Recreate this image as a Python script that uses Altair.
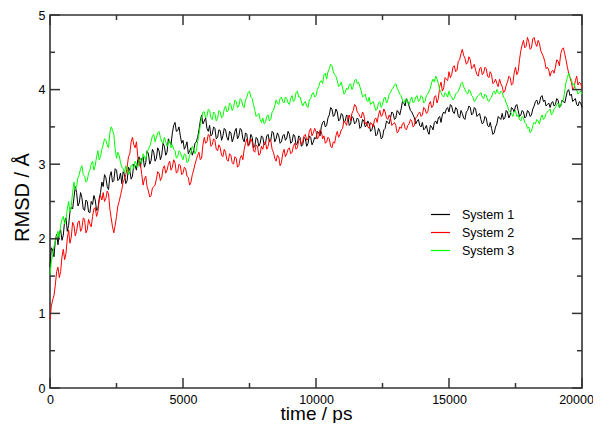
import altair as alt
import pandas as pd

# time axis sampling (ps): full-step samples and half-step samples
times = list(range(0, 20001, 100))
times_mid = list(range(50, 20000, 100))

sys1 = [
    1.62, 1.85, 1.98, 1.92, 2.12, 2.05, 2.28, 2.18, 2.42, 2.55,
    2.62, 2.48, 2.55, 2.38, 2.50, 2.35, 2.46, 2.52, 2.40, 2.62,
    2.70, 2.82, 2.66, 2.90, 2.78, 2.92, 2.80, 2.74, 2.86, 2.78,
    2.92, 2.84, 2.98, 3.06, 2.96, 3.10, 3.02, 3.14, 3.05, 3.16,
    3.08, 3.18, 3.12, 3.24, 3.16, 3.30, 3.42, 3.56, 3.45, 3.38,
    3.32, 3.24, 3.14, 3.22, 3.18, 3.30, 3.46, 3.66, 3.58, 3.48,
    3.52, 3.40, 3.48, 3.36, 3.45, 3.38, 3.46, 3.32, 3.42, 3.35,
    3.48, 3.38, 3.46, 3.30, 3.40, 3.28, 3.36, 3.24, 3.34, 3.28,
    3.36, 3.28, 3.40, 3.32, 3.42, 3.34, 3.38, 3.30, 3.40, 3.35,
    3.40, 3.30, 3.38, 3.28, 3.36, 3.26, 3.34, 3.28, 3.36, 3.30,
    3.34, 3.42, 3.50, 3.58, 3.52, 3.66, 3.74, 3.66, 3.70, 3.60,
    3.66, 3.58, 3.64, 3.54, 3.62, 3.56, 3.60, 3.50, 3.58, 3.52,
    3.54, 3.46, 3.50, 3.40, 3.44, 3.36, 3.48, 3.56, 3.62, 3.68,
    3.62, 3.70, 3.74, 3.82, 3.88, 3.78, 3.70, 3.62, 3.58, 3.52,
    3.56, 3.48, 3.44, 3.52, 3.46, 3.58, 3.62, 3.56, 3.70, 3.74,
    3.70, 3.78, 3.68, 3.74, 3.62, 3.68, 3.60, 3.72, 3.76, 3.68,
    3.74, 3.66, 3.60, 3.56, 3.62, 3.50, 3.48, 3.42, 3.54, 3.62,
    3.68, 3.62, 3.70, 3.66, 3.74, 3.78, 3.72, 3.66, 3.70, 3.64,
    3.70, 3.66, 3.78, 3.86, 3.82, 3.92, 3.86, 3.80, 3.76, 3.84,
    3.80, 3.86, 3.78, 3.84, 3.90, 4.00, 3.94, 3.86, 3.80, 3.84, 3.76,
]
sys1_mid = [
    1.88, 1.76, 2.06, 2.08, 1.98, 2.24, 2.10, 2.36, 2.40, 2.70,
    2.44, 2.62, 2.40, 2.52, 2.36, 2.50, 2.58, 2.38, 2.54, 2.76,
    2.86, 2.70, 2.84, 2.76, 2.94, 2.78, 2.88, 2.90, 2.74, 2.96,
    2.80, 3.00, 2.92, 3.10, 3.08, 2.96, 3.18, 3.00, 3.20, 3.04,
    3.22, 3.06, 3.28, 3.12, 3.34, 3.26, 3.52, 3.44, 3.50, 3.28,
    3.20, 3.30, 3.18, 3.12, 3.28, 3.36, 3.58, 3.54, 3.62, 3.44,
    3.38, 3.50, 3.34, 3.46, 3.32, 3.48, 3.36, 3.44, 3.30, 3.44,
    3.34, 3.48, 3.34, 3.42, 3.26, 3.40, 3.22, 3.36, 3.24, 3.38,
    3.26, 3.38, 3.30, 3.44, 3.30, 3.42, 3.28, 3.38, 3.32, 3.44,
    3.28, 3.40, 3.26, 3.38, 3.24, 3.36, 3.24, 3.38, 3.26, 3.36,
    3.44, 3.38, 3.56, 3.50, 3.62, 3.76, 3.64, 3.74, 3.58, 3.68,
    3.56, 3.66, 3.52, 3.64, 3.54, 3.62, 3.48, 3.60, 3.50, 3.58,
    3.44, 3.54, 3.38, 3.48, 3.34, 3.46, 3.58, 3.54, 3.70, 3.60,
    3.72, 3.66, 3.84, 3.78, 3.84, 3.72, 3.66, 3.54, 3.60, 3.50,
    3.46, 3.52, 3.40, 3.50, 3.56, 3.54, 3.64, 3.66, 3.68, 3.76,
    3.80, 3.70, 3.76, 3.64, 3.72, 3.62, 3.70, 3.78, 3.66, 3.76,
    3.64, 3.68, 3.54, 3.64, 3.52, 3.56, 3.40, 3.50, 3.64, 3.60,
    3.60, 3.72, 3.62, 3.76, 3.70, 3.80, 3.64, 3.72, 3.62, 3.72,
    3.64, 3.74, 3.84, 3.80, 3.90, 3.84, 3.78, 3.82, 3.82, 3.78,
    3.88, 3.76, 3.86, 3.82, 3.98, 3.92, 3.84, 3.88, 3.78, 3.82,
]

sys2 = [
    0.92, 1.18, 1.38, 1.62, 1.56, 1.86, 1.80, 2.12, 2.02, 2.18,
    2.10, 2.24, 2.14, 2.26, 2.12, 2.20, 2.30, 2.42, 2.36, 2.58,
    2.62, 2.54, 2.60, 2.28, 2.08, 2.30, 2.50, 2.66, 2.80, 2.96,
    3.14, 3.36, 3.22, 3.10, 3.00, 2.72, 2.84, 2.64, 2.58, 2.70,
    2.80, 2.88, 2.82, 2.98, 2.92, 3.04, 2.96, 3.02, 2.90, 2.98,
    2.88, 2.94, 2.82, 2.76, 2.92, 3.06, 3.16, 3.08, 3.36, 3.30,
    3.38, 3.26, 3.32, 3.18, 3.22, 3.10, 3.16, 3.04, 3.12, 3.00,
    3.08, 2.98, 3.12, 3.20, 3.34, 3.26, 3.30, 3.16, 3.24, 3.14,
    3.20, 3.30, 3.24, 3.32, 3.16, 3.04, 3.10, 3.02, 3.20, 3.14,
    3.22, 3.16, 3.28, 3.22, 3.34, 3.30, 3.40, 3.34, 3.48, 3.42,
    3.44, 3.36, 3.44, 3.38, 3.30, 3.34, 3.22, 3.28, 3.44, 3.40,
    3.48, 3.56, 3.62, 3.58, 3.72, 3.78, 3.68, 3.62, 3.66, 3.56,
    3.48, 3.54, 3.60, 3.56, 3.72, 3.66, 3.70, 3.60, 3.62, 3.54,
    3.52, 3.44, 3.48, 3.56, 3.46, 3.54, 3.58, 3.52, 3.64, 3.70,
    3.66, 3.74, 3.70, 3.84, 3.78, 3.92, 3.88, 4.10, 4.02, 4.14,
    4.24, 4.20, 4.32, 4.26, 4.40, 4.54, 4.42, 4.36, 4.40, 4.30,
    4.26, 4.18, 4.30, 4.22, 4.28, 4.16, 4.20, 4.10, 4.08, 4.14,
    4.04, 3.98, 4.10, 4.16, 4.08, 4.30, 4.24, 4.52, 4.66, 4.58,
    4.64, 4.56, 4.70, 4.58, 4.62, 4.48, 4.38, 4.30, 4.18, 4.26,
    4.30, 4.38, 4.48, 4.56, 4.40, 4.22, 4.10, 4.02, 4.18, 4.10, 4.02,
]
sys2_mid = [
    1.10, 1.24, 1.56, 1.48, 1.76, 1.72, 2.00, 1.94, 2.22, 2.04,
    2.22, 2.10, 2.28, 2.08, 2.26, 2.16, 2.40, 2.30, 2.52, 2.52,
    2.50, 2.64, 2.40, 2.16, 2.18, 2.44, 2.58, 2.76, 2.86, 3.10,
    3.30, 3.26, 3.30, 2.98, 2.86, 2.80, 2.70, 2.56, 2.68, 2.72,
    2.90, 2.78, 2.94, 2.88, 3.00, 2.92, 3.06, 2.88, 3.00, 2.86,
    2.96, 2.84, 2.72, 2.86, 3.00, 3.12, 3.06, 3.26, 3.28, 3.40,
    3.24, 3.34, 3.20, 3.26, 3.12, 3.20, 3.06, 3.14, 3.02, 3.10,
    2.96, 3.08, 3.06, 3.28, 3.24, 3.34, 3.18, 3.26, 3.12, 3.24,
    3.28, 3.20, 3.34, 3.20, 3.08, 3.12, 2.98, 3.14, 3.10, 3.20,
    3.14, 3.24, 3.20, 3.32, 3.26, 3.38, 3.32, 3.44, 3.38, 3.48,
    3.34, 3.46, 3.34, 3.28, 3.36, 3.24, 3.30, 3.38, 3.36, 3.46,
    3.58, 3.52, 3.66, 3.68, 3.80, 3.70, 3.64, 3.70, 3.54, 3.50,
    3.56, 3.50, 3.62, 3.66, 3.64, 3.74, 3.62, 3.66, 3.52, 3.56,
    3.42, 3.50, 3.54, 3.48, 3.52, 3.60, 3.50, 3.62, 3.68, 3.64,
    3.76, 3.68, 3.80, 3.76, 3.90, 3.82, 4.04, 3.98, 4.16, 4.12,
    4.16, 4.30, 4.24, 4.38, 4.48, 4.46, 4.34, 4.44, 4.28, 4.34,
    4.20, 4.28, 4.20, 4.30, 4.18, 4.24, 4.08, 4.14, 4.04, 4.08,
    3.96, 4.06, 4.18, 4.06, 4.22, 4.20, 4.40, 4.60, 4.56, 4.70,
    4.54, 4.68, 4.62, 4.66, 4.52, 4.44, 4.28, 4.26, 4.24, 4.22,
    4.40, 4.32, 4.54, 4.48, 4.30, 4.16, 4.00, 4.12, 4.06, 4.08,
]

sys3 = [
    1.52, 1.78, 1.96, 2.10, 2.18, 2.30, 2.26, 2.50, 2.44, 2.76,
    2.70, 2.86, 2.98, 2.84, 2.78, 2.92, 3.04, 2.98, 3.18, 3.10,
    3.26, 3.32, 3.22, 3.50, 3.40, 3.08, 3.12, 2.96, 2.88, 2.94,
    2.90, 3.00, 3.04, 2.96, 3.08, 3.14, 3.06, 3.20, 3.30, 3.40,
    3.36, 3.44, 3.30, 3.36, 3.24, 3.32, 3.26, 3.18, 3.10, 3.16,
    3.06, 3.12, 3.04, 3.16, 3.22, 3.18, 3.40, 3.62, 3.70, 3.64,
    3.72, 3.60, 3.68, 3.62, 3.70, 3.64, 3.78, 3.72, 3.80, 3.76,
    3.84, 3.78, 3.86, 3.76, 3.90, 3.98, 3.88, 3.72, 3.66, 3.60,
    3.62, 3.56, 3.66, 3.60, 3.72, 3.86, 3.80, 3.90, 3.82, 3.88,
    3.80, 3.92, 3.86, 3.98, 3.90, 3.78, 3.84, 3.76, 3.88, 3.96,
    3.92, 4.04, 4.12, 4.20, 4.14, 4.28, 4.32, 4.20, 4.12, 4.06,
    4.02, 3.96, 4.00, 4.08, 4.04, 4.14, 4.10, 3.98, 3.92, 3.86,
    3.90, 3.82, 3.78, 3.74, 3.84, 3.80, 3.90, 3.86, 3.96, 4.02,
    4.08, 3.98, 3.92, 3.82, 3.88, 3.80, 3.90, 3.84, 3.92, 3.86,
    3.90, 3.84, 3.94, 4.02, 4.14, 4.18, 4.08, 3.96, 3.90, 3.94,
    3.98, 3.90, 3.88, 3.96, 4.02, 4.10, 4.00, 3.94, 3.98, 3.90,
    3.86, 3.92, 3.96, 3.88, 3.92, 3.84, 3.90, 3.98, 4.00, 3.94,
    3.96, 3.88, 3.78, 3.70, 3.64, 3.72, 3.66, 3.58, 3.62, 3.54,
    3.50, 3.44, 3.56, 3.60, 3.54, 3.66, 3.62, 3.70, 3.74, 3.68,
    3.76, 3.82, 3.78, 3.86, 4.10, 4.22, 4.14, 4.08, 4.00, 3.96, 3.94,
]
sys3_mid = [
    1.70, 1.90, 2.04, 2.02, 2.26, 2.20, 2.40, 2.36, 2.62, 2.66,
    2.82, 2.94, 2.86, 2.76, 2.88, 3.00, 2.92, 3.10, 3.06, 3.20,
    3.34, 3.26, 3.42, 3.46, 3.20, 3.16, 3.02, 2.94, 2.98, 2.86,
    2.98, 2.94, 3.00, 3.04, 3.02, 3.10, 3.16, 3.24, 3.38, 3.30,
    3.42, 3.36, 3.28, 3.30, 3.28, 3.22, 3.20, 3.08, 3.18, 3.10,
    3.14, 3.02, 3.12, 3.24, 3.14, 3.30, 3.52, 3.70, 3.62, 3.74,
    3.62, 3.70, 3.58, 3.72, 3.62, 3.74, 3.70, 3.82, 3.72, 3.86,
    3.76, 3.88, 3.78, 3.86, 3.96, 3.90, 3.80, 3.64, 3.68, 3.56,
    3.54, 3.64, 3.58, 3.70, 3.78, 3.82, 3.88, 3.84, 3.90, 3.82,
    3.88, 3.84, 3.96, 3.90, 3.84, 3.82, 3.78, 3.86, 3.94, 3.90,
    4.00, 4.10, 4.08, 4.22, 4.24, 4.34, 4.24, 4.18, 4.04, 4.10,
    3.94, 4.02, 4.06, 4.00, 4.12, 4.08, 4.04, 3.90, 3.94, 3.84,
    3.80, 3.84, 3.72, 3.82, 3.76, 3.88, 3.82, 3.94, 4.00, 4.06,
    4.02, 3.94, 3.86, 3.86, 3.82, 3.86, 3.82, 3.90, 3.84, 3.92,
    3.82, 3.92, 3.98, 4.10, 4.10, 4.14, 4.00, 3.92, 3.96, 3.90,
    3.92, 3.86, 3.94, 3.98, 4.08, 4.04, 3.96, 4.00, 3.92, 3.84,
    3.90, 3.94, 3.90, 3.94, 3.86, 3.88, 3.96, 3.94, 3.96, 3.98,
    3.90, 3.82, 3.72, 3.68, 3.70, 3.64, 3.60, 3.64, 3.56, 3.48,
    3.42, 3.52, 3.54, 3.58, 3.62, 3.60, 3.68, 3.72, 3.66, 3.74,
    3.80, 3.76, 3.84, 3.98, 4.16, 4.16, 4.06, 4.02, 3.94, 3.98,
]

series_names = ["System 1", "System 2", "System 3"]
series_colors = ["#000000", "#ff0000", "#00ff00"]

x_major = [0, 5000, 10000, 15000, 20000]
x_minor = [2500, 7500, 12500, 17500]
y_major = [0, 1, 2, 3, 4, 5]
y_minor = [0.5, 1.5, 2.5, 3.5, 4.5]

rows = []
for name, vals, mids in zip(series_names, [sys1, sys2, sys3],
                            [sys1_mid, sys2_mid, sys3_mid]):
    for t, v in zip(times, vals):
        rows.append({"time": t, "rmsd": v, "series": name})
    for t, v in zip(times_mid, mids):
        rows.append({"time": t, "rmsd": v, "series": name})
df = pd.DataFrame(rows).sort_values(["series", "time"]).reset_index(drop=True)

W, H = 532, 373
FONT = "Liberation Sans"
AXC = "#333333"

xscale = alt.Scale(domain=[0, 20000], nice=False, zero=False)
yscale = alt.Scale(domain=[0, 5], nice=False, zero=False)

lines = alt.Chart(df).mark_line(strokeWidth=1).encode(
    x=alt.X("time:Q", scale=xscale,
            axis=alt.Axis(title="time / ps", values=x_major, format="d",
                          ticks=False, grid=False, domain=False,
                          labelFontSize=12.5, labelPadding=5,
                          labelColor="black", titleFontSize=19,
                          titleFontWeight="normal", titleColor="black",
                          titleX=W / 2, titleY=31, titleBaseline="alphabetic",
                          titleAlign="center", labelFlush=False,
                          labelOffset={"condition": {"test": "datum.value == 20000",
                                                     "value": -6},
                                       "value": 0})),
    y=alt.Y("rmsd:Q", scale=yscale,
            axis=alt.Axis(title="RMSD / Å", values=y_major, format="d",
                          ticks=False, grid=False, domain=False,
                          labelFontSize=12.5, labelPadding=5,
                          labelColor="black", titleFontSize=20,
                          titleFontWeight="normal", titleColor="black",
                          titleX=-22, titleY=182, titleAngle=270,
                          titleBaseline="alphabetic", titleAlign="center",
                          labelFlush=False)),
    color=alt.Color("series:N",
                    scale=alt.Scale(domain=series_names, range=series_colors),
                    legend=alt.Legend(title=None, orient="none", legendX=380,
                                      legendY=189, symbolType="stroke",
                                      symbolSize=361, symbolStrokeWidth=1.2,
                                      labelFontSize=12.5, labelOffset=11,
                                      rowPadding=1, padding=0,
                                      labelColor="black")),
)

dfxM = pd.DataFrame({"t": x_major})
dfxm = pd.DataFrame({"t": x_minor})
dfyM = pd.DataFrame({"v": y_major})
dfym = pd.DataFrame({"v": y_minor})

def xt(d, y1, y2):
    return alt.Chart(d).mark_rule(color=AXC, strokeWidth=1.5).encode(
        x=alt.X("t:Q", scale=xscale), y=alt.value(y1), y2=alt.value(y2))

def yt(d, x1, x2):
    return alt.Chart(d).mark_rule(color=AXC, strokeWidth=1.5).encode(
        y=alt.Y("v:Q", scale=yscale), x=alt.value(x1), x2=alt.value(x2))

ticks = [
    xt(dfxM, H, H - 10), xt(dfxm, H, H - 5),
    xt(dfxM, 0, 10), xt(dfxm, 0, 5),
    yt(dfyM, 0, 10), yt(dfym, 0, 5),
    yt(dfyM, W, W - 10), yt(dfym, W, W - 5),
]

chart = alt.layer(lines, *ticks).properties(
    width=W, height=H,
    autosize=alt.AutoSizeParams(type="none"),
    padding={"left": 42, "top": 7, "right": 11, "bottom": 35},
).configure(font=FONT).configure_view(stroke=AXC, strokeWidth=1.6)

chart.save("out.html", embed_options={"renderer": "svg", "actions": False})
